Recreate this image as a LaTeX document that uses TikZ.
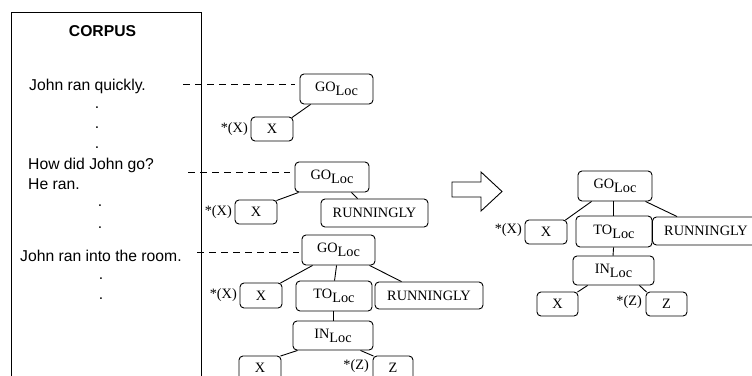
\documentclass[tikz,border=0pt]{standalone}
\usepackage{fontspec}
\setmainfont{Liberation Serif}
\newfontfamily\corpusfont{Liberation Sans}
\begin{document}
\begin{tikzpicture}[x=1pt,y=-1pt,
  tbox/.style={draw,rounded corners=4pt,line width=0.9pt,inner sep=0pt,
    font=\fontsize{14.3}{16}\selectfont},
  slbl/.style={font=\fontsize{14.3}{16}\selectfont,inner sep=0pt,anchor=east},
  ctext/.style={font=\corpusfont\fontsize{15.7}{18}\selectfont,inner sep=0pt,anchor=base west},
  cdot/.style={font=\corpusfont\fontsize{15.7}{18}\selectfont,inner sep=0pt,anchor=base},
  link/.style={line width=0.9pt},
  dlink/.style={line width=0.9pt,dash pattern=on 7pt off 5pt},
]
\newcommand{\loc}[1]{#1\raisebox{-4pt}{Loc}}
\clip (0,0) rectangle (752,375);
\useasboundingbox (0,0) rectangle (752,375);
% corpus box
\draw[line width=0.9pt] (11,12) rectangle (201,400);
\node[font=\corpusfont\bfseries\fontsize{15.7}{18}\selectfont,inner sep=0pt,anchor=base] (corpus) at (102.5,36) {CORPUS};
\node[ctext] (s1) at (29,90.5) {John ran quickly.};
\node[cdot] (d1) at (97,108) {.};
\node[cdot] (d2) at (97,128) {.};
\node[cdot] (d3) at (97,148) {.};
\node[ctext] (s2) at (28,169.5) {How did John go?};
\node[ctext] (s3) at (28,189) {He ran.};
\node[cdot] (d4) at (100,206) {.};
\node[cdot] (d5) at (100,228) {.};
\node[ctext] (s4) at (20,261) {John ran into the room.};
\node[cdot] (d6) at (101,279) {.};
\node[cdot] (d7) at (101,299) {.};

% tree 1
\node[tbox,minimum width=73pt,minimum height=30pt] (go1) at (336.5,89) {\loc{GO}};
\node[tbox,minimum width=42pt,minimum height=24pt] (x1) at (272,129) {X};
\node[slbl] (sx1) at (248,129) {*(X)};
\draw[link] ([xshift=11pt]go1.south west) -- ([xshift=-1.5pt,yshift=-1pt]x1.north east);

% tree 2
\node[tbox,minimum width=74pt,minimum height=30pt] (go2) at (332,177) {\loc{GO}};
\node[tbox,minimum width=42pt,minimum height=24pt] (x2) at (256,212) {X};
\node[slbl] (sx2) at (232,212) {*(X)};
\node[tbox,minimum width=107pt,minimum height=28pt] (r2) at (374.5,213) {RUNNINGLY};
\draw[link] ([xshift=4pt]go2.south west) -- ([xshift=-1pt,yshift=-1pt]x2.north east);
\draw[link] ([xshift=-18pt]go2.south east) -- ([xshift=37pt]r2.north west);

% tree 3
\node[tbox,minimum width=73pt,minimum height=30pt] (go3) at (338.5,250) {\loc{GO}};
\node[tbox,minimum width=42pt,minimum height=25pt] (x3) at (261,295.5) {X};
\node[slbl] (sx3) at (237,295.5) {*(X)};
\node[tbox,minimum width=76pt,minimum height=30pt] (to3) at (334,296) {\loc{TO}};
\node[tbox,minimum width=108pt,minimum height=27pt] (r3) at (429,295.5) {RUNNINGLY};
\node[tbox,minimum width=80pt,minimum height=29pt] (in3) at (333,335.5) {\loc{IN}};
\node[tbox,minimum width=42pt,minimum height=24pt] (xb3) at (260,368) {X};
\node[tbox,minimum width=40pt,minimum height=24pt] (z3) at (393,368) {Z};
\node[slbl] (sz3) at (369,366) {*(Z)};
\draw[link] ([xshift=11pt]go3.south west) -- ([xshift=-2pt,yshift=-0.5pt]x3.north east);
\draw[link] ([xshift=35pt]go3.south west) -- ([xshift=39pt]to3.north west);
\draw[link] ([xshift=-6pt]go3.south east) -- ([xshift=27pt]r3.north west);
\draw[link] ([xshift=38pt]to3.south west) -- ([xshift=41pt]in3.north west);
\draw[link] ([xshift=5pt]in3.south west) -- ([xshift=-1pt,yshift=-0.5pt]xb3.north east);
\draw[link] ([xshift=-13pt]in3.south east) -- ([xshift=1pt,yshift=-0.5pt]z3.north west);

% dashed connectors
\coordinate (c1) at (183,84.5);
\coordinate (c2) at (188,172.5);
\coordinate (c3) at (197,252);
\draw[dlink,shorten >=5pt] (c1) -- (c1 -| go1.west);
\draw[dlink,shorten >=5pt] (c2) -- (c2 -| go2.west);
\draw[dlink,shorten >=3pt] (c3) -- (c3 -| go3.west);

% block arrow
\draw[line width=0.9pt,line join=miter] (452,182) -- (481,182) -- (481,172) -- (502,191.5)
  -- (481,211) -- (481,197) -- (452,197) -- cycle;

% final tree
\node[tbox,minimum width=74pt,minimum height=30pt] (go4) at (615,186) {\loc{GO}};
\node[tbox,minimum width=42pt,minimum height=24pt] (x4) at (546,232) {X};
\node[slbl] (sx4) at (522,230) {*(X)};
\node[tbox,minimum width=76pt,minimum height=31pt] (to4) at (614,231.5) {\loc{TO}};
\node[tbox,minimum width=107pt,minimum height=28pt] (r4) at (706,231) {RUNNINGLY};
\node[tbox,minimum width=81pt,minimum height=29pt] (in4) at (613.5,270.5) {\loc{IN}};
\node[tbox,minimum width=41pt,minimum height=24pt] (xb4) at (557.5,304) {X};
\node[tbox,minimum width=41pt,minimum height=24pt] (z4) at (666.5,304) {Z};
\node[slbl] (sz4) at (642,302) {*(Z)};
\draw[link] ([xshift=14pt]go4.south west) -- ([xshift=-2pt,yshift=-0.5pt]x4.north east);
\draw[link] ([xshift=36pt]go4.south west) -- ([xshift=38pt]to4.north west);
\draw[link] ([xshift=-7pt]go4.south east) -- ([xshift=25pt]r4.north west);
\draw[link] ([xshift=38pt]to4.south west) -- ([xshift=40.5pt]in4.north west);
\draw[link] ([xshift=15pt]in4.south west) -- ([xshift=-1pt,yshift=-0.5pt]xb4.north east);
\draw[link] ([xshift=-15pt]in4.south east) -- ([xshift=1pt,yshift=-0.5pt]z4.north west);
\end{tikzpicture}
\end{document}
